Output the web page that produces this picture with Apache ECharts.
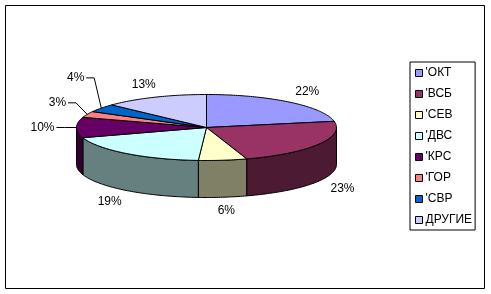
<!DOCTYPE html>
<html>
<head>
<meta charset="utf-8">
<script src="https://cdn.jsdelivr.net/npm/echarts@6/dist/echarts.min.js"></script>
<style>html,body{margin:0;padding:0;background:#fff}#c{width:491px;height:294px}</style>
</head>
<body>
<div id="c"></div>
<script>
// ---- data ----
const categories = ["'ОКТ", "'ВСБ", "'СЕВ", "'ДВС", "'КРС", "'ГОР", "'СВР", "ДРУГИЕ"];
const shares = [22, 23, 6, 19, 10, 3, 4, 13];
const colors = ['#9999FF', '#993366', '#FFFFCC', '#CCFFFF', '#660066', '#FF8080', '#0066CC', '#CCCCFF'];

// ---- layout / style (not data) ----
const geo = { cx: 206.5, cy: 127.5, rx: 130, ry: 33, depth: 37, lrx: 158, lry: 47 };
const labelNudge = { 4: [-6, 0], 5: [-4, -6], 6: [-3, -22] };
const FONT = '12px "Liberation Sans", Arial, sans-serif';

const total = shares.reduce((a, b) => a + b, 0);
const startAngles = [];
{ let acc = 0; shares.forEach(v => { startAngles.push(acc / total * 360); acc += v; }); }

function pt(deg, rx, ry, dy) {
  const r = deg * Math.PI / 180;
  return [geo.cx + rx * Math.sin(r), geo.cy - ry * Math.cos(r) + (dy || 0)];
}
function arc(a, b, dy) {
  const pts = [];
  const n = Math.max(2, Math.ceil(Math.abs(b - a)));
  for (let k = 0; k <= n; k++) pts.push(pt(a + (b - a) * k / n, geo.rx, geo.ry, dy));
  return pts;
}
function darken(hex, f) {
  const n = parseInt(hex.slice(1), 16);
  const r = Math.round(((n >> 16) & 255) * f), g = Math.round(((n >> 8) & 255) * f), b = Math.round((n & 255) * f);
  return 'rgb(' + r + ',' + g + ',' + b + ')';
}

function renderItem(params, api) {
  const i = api.value(1);
  const v = api.value(0);
  const a0 = startAngles[i];
  const a1 = a0 + v / total * 360;
  const children = [];
  // side wall (front half only)
  const s0 = Math.max(a0, 90), s1 = Math.min(a1, 270);
  if (s0 < s1) {
    const top = arc(s0, s1, 0);
    const bot = arc(s1, s0, geo.depth);
    children.push({ type: 'polygon', shape: { points: top.concat(bot) },
      style: { fill: darken(colors[i], 0.5), stroke: '#000', lineWidth: 1 } });
  }
  // top face
  children.push({ type: 'polygon', shape: { points: [[geo.cx, geo.cy]].concat(arc(a0, a1, 0)) },
    style: { fill: colors[i], stroke: '#000', lineWidth: 1 } });
  // label
  const mid = (a0 + a1) / 2;
  const c = Math.cos(mid * Math.PI / 180);
  let [lx, ly] = pt(mid, geo.lrx, geo.lry, c < -0.05 ? geo.depth : 0);
  const txt = Math.round(v / total * 100) + '%';
  if (labelNudge[i]) {
    lx += labelNudge[i][0]; ly += labelNudge[i][1];
    const hw = txt.length > 2 ? 12 : 8.5;
    const end = pt(mid, geo.rx, geo.ry, 0);
    children.push({ type: 'polyline', shape: { points: [[lx + hw + 2, ly], [lx + hw + 10, ly], end] },
      style: { stroke: '#000', lineWidth: 1, fill: null } });
  }
  children.push({ type: 'text', x: lx, y: ly,
    style: { text: txt, font: FONT, fill: '#000', textAlign: 'center', textVerticalAlign: 'middle' } });
  return { type: 'group', children };
}

const chart = echarts.init(document.getElementById('c'), null, { renderer: 'canvas' });
chart.setOption({
  animation: false,
  backgroundColor: '#fff',
  graphic: [{ type: 'rect', shape: { x: 5.5, y: 5.5, width: 479, height: 283 },
    style: { fill: null, stroke: '#000', lineWidth: 1 }, z: -1 }],
  legend: {
    orient: 'vertical', left: 410, top: 62,
    data: categories,
    icon: 'rect', itemWidth: 7, itemHeight: 7, itemGap: 7,
    padding: [4, 3, 3, 5],
    borderColor: '#000', borderWidth: 1, borderRadius: 0,
    itemStyle: { borderColor: '#000', borderWidth: 1 },
    textStyle: { fontFamily: '"Liberation Sans", Arial, sans-serif', fontSize: 12, color: '#000', lineHeight: 14, padding: [0, 0, 0, -2] },
    selectedMode: false
  },
  series: categories.map((name, i) => ({
    type: 'custom', name, coordinateSystem: 'none',
    itemStyle: { color: colors[i] },
    data: [[shares[i], i]],
    renderItem
  }))
});
</script>
</body>
</html>
